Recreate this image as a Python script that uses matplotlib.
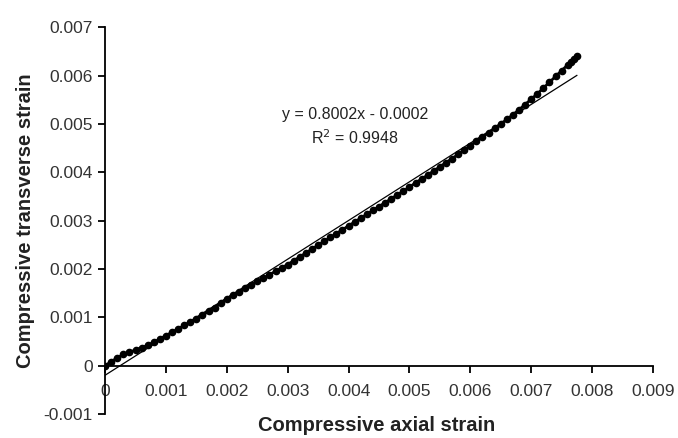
import matplotlib.pyplot as plt
import numpy as np

plt.rcParams['font.family'] = ['Liberation Sans', 'DejaVu Sans']

# measured points (axial strain, transverse strain)
axial = [0.0, 0.0001, 0.0002, 0.0003, 0.0004, 0.0005, 0.0006, 0.0007, 0.0008, 0.0009,
         0.0010, 0.0011, 0.0012, 0.0013, 0.0014, 0.0015, 0.0016, 0.0017, 0.0018, 0.0019,
         0.0020, 0.0021, 0.0022, 0.0023, 0.0024, 0.0025, 0.0026, 0.0027, 0.0028, 0.0029,
         0.0030, 0.0031, 0.0032, 0.0033, 0.0034, 0.0035, 0.0036, 0.0037, 0.0038, 0.0039,
         0.0040, 0.0041, 0.0042, 0.0043, 0.0044, 0.0045, 0.0046, 0.0047, 0.0048, 0.0049,
         0.0050, 0.0051, 0.0052, 0.0053, 0.0054, 0.0055, 0.0056, 0.0057, 0.0058, 0.0059,
         0.0060, 0.0061, 0.0062, 0.0063, 0.0064, 0.0065, 0.0066, 0.0067, 0.0068, 0.0069,
         0.0070, 0.0071, 0.0072, 0.0073, 0.0074, 0.0075, 0.0076, 0.00765, 0.0077, 0.00775]
transverse = [0.0, 0.00008, 0.00016, 0.00023, 0.00028, 0.00032, 0.00037, 0.00042, 0.00048, 0.00055,
              0.00062, 0.00069, 0.00076, 0.00083, 0.00090, 0.00097, 0.00104, 0.00112, 0.00120, 0.00129,
              0.00138, 0.00146, 0.00153, 0.00160, 0.00167, 0.00174, 0.00181, 0.00188, 0.00195, 0.00202,
              0.00209, 0.00217, 0.00225, 0.00233, 0.00241, 0.00249, 0.00257, 0.00265, 0.00273, 0.00281,
              0.00289, 0.00297, 0.00305, 0.00313, 0.00321, 0.00329, 0.00337, 0.00345, 0.00353, 0.00361,
              0.00369, 0.00378, 0.00386, 0.00394, 0.00403, 0.00411, 0.00420, 0.00428, 0.00437, 0.00446,
              0.00455, 0.00464, 0.00473, 0.00482, 0.00491, 0.00500, 0.00509, 0.00519, 0.00529, 0.00540,
              0.00551, 0.00562, 0.00574, 0.00586, 0.00598, 0.00610, 0.00622, 0.00628, 0.00634, 0.00640]

# linear trendline shown on the chart
slope = 0.8002
intercept = -0.0002
r2 = 0.9948
fit_x = [0.0, 0.00775]

f = plt.figure(figsize=(6.78, 4.38), dpi=100)
ax = f.add_axes([0.155, 0.055, 0.808, 0.883])

ax.plot(axial, transverse, color="black", lw=2, marker="o", ms=4.5, mec="black", mfc="black")
fx = np.array(fit_x)
ax.plot(fx, slope * fx + intercept, color="black", lw=0.9)

ax.text(0.0041, 0.00520, "y = %.4fx - %.4f" % (slope, -intercept), ha="center", va="center",
        fontsize=11.5, color="#222222")
ax.text(0.0041, 0.00472, "R$^2$ = %.4f" % r2, ha="center", va="center",
        fontsize=11.5, color="#222222")

ax.set_xlim(0, 0.009)
ax.set_ylim(-0.001, 0.007)
ax.set_xticks(np.arange(0, 0.0091, 0.001))
ax.set_yticks(np.arange(-0.001, 0.0071, 0.001))
ax.set_xticklabels(["0"] + ["%.3f" % v for v in np.arange(0.001, 0.0091, 0.001)])
ax.set_yticklabels(["-0.001", "0"] + ["%.3f" % v for v in np.arange(0.001, 0.0071, 0.001)])

ax.spines["top"].set_visible(False)
ax.spines["right"].set_visible(False)
ax.spines["bottom"].set_position(("data", 0))
ax.spines["left"].set_linewidth(1.3)
ax.spines["bottom"].set_linewidth(1.3)
ax.tick_params(direction="out", length=5, width=1.3, labelsize=12.5, labelcolor="#333333", pad=4)
ax.tick_params(axis="x", pad=8)

ax.set_ylabel("Compressive transverse strain", fontsize=14.5, fontweight="bold", color="#222222", labelpad=6)
f.text(0.556, 0.028, "Compressive axial strain", ha="center", va="center",
       fontsize=14.5, fontweight="bold", color="#222222")

f.savefig("out.png", dpi=100)
